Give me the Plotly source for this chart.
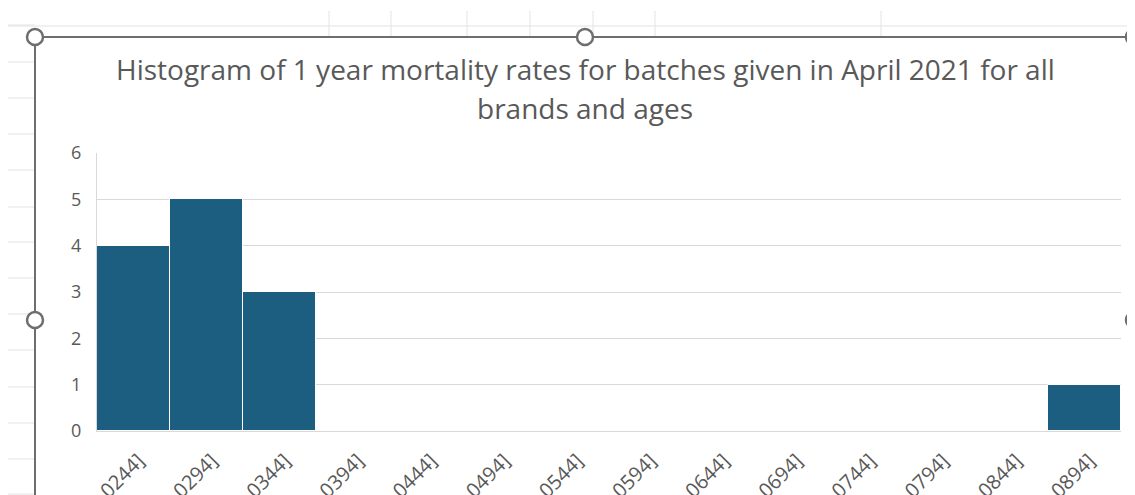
import plotly.graph_objects as go

# ---- data ----
bin_edges = [0.0194, 0.0244, 0.0294, 0.0344, 0.0394, 0.0444, 0.0494, 0.0544,
             0.0594, 0.0644, 0.0694, 0.0744, 0.0794, 0.0844, 0.0894]
counts = [4, 5, 3, 0, 0, 0, 0, 0, 0, 0, 0, 0, 0, 1]
y_ticks = [0, 1, 2, 3, 4, 5, 6]
title_line1 = "Histogram of 1 year mortality rates for batches given in April 2021 for all"
title_line2 = "brands and ages"

labels = []
for i in range(len(counts)):
    lo, hi = bin_edges[i], bin_edges[i + 1]
    if i == 0:
        labels.append(f"[{lo:.4f}, {hi:.4f}]")
    else:
        labels.append(f"({lo:.4f}, {hi:.4f}]")

OFF = 8  # page body margin
W, H = 1135 - OFF, 495 - OFF
# plot area in screen pixels (reference coordinates)
L, R, T, B = 97, 1121, 153, 431

def px(x):
    return (x - L) / (R - L)

def py(y):
    return (B - y) / (B - T)

fig = go.Figure()
fig.add_trace(go.Bar(
    x=labels, y=counts,
    marker=dict(color="#1b5e80", line=dict(color="#ffffff", width=1)),
    hoverinfo="x+y",
))

shapes = []
grid_col = "#e3e3e3"
for yy in [25, 62, 98, 134, 170, 207, 242, 278, 314, 350, 387, 423, 459, 494]:
    shapes.append(dict(type="line", xref="paper", yref="paper",
                       x0=px(4), x1=px(35), y0=py(yy), y1=py(yy),
                       line=dict(color=grid_col, width=1), layer="below"))
shapes.append(dict(type="line", xref="paper", yref="paper",
                   x0=px(4), x1=px(1135), y0=py(26), y1=py(26),
                   line=dict(color=grid_col, width=1), layer="below"))
for xx in [329, 391, 467, 530, 593, 655, 881]:
    shapes.append(dict(type="line", xref="paper", yref="paper",
                       x0=px(xx), x1=px(xx), y0=py(11), y1=py(37),
                       line=dict(color=grid_col, width=1), layer="below"))
frame_col = "#6e6e6e"
shapes.append(dict(type="line", xref="paper", yref="paper",
                   x0=px(35), x1=px(1140), y0=py(37), y1=py(37),
                   line=dict(color=frame_col, width=2)))
shapes.append(dict(type="line", xref="paper", yref="paper",
                   x0=px(35), x1=px(35), y0=py(37), y1=py(500),
                   line=dict(color=frame_col, width=2)))
r = 8
for (cx, cy) in [(35, 37), (585, 37), (1134, 37), (35, 320), (1134, 320)]:
    shapes.append(dict(type="circle", xref="paper", yref="paper",
                       x0=px(cx - r), x1=px(cx + r), y0=py(cy + r), y1=py(cy - r),
                       fillcolor="#ffffff", line=dict(color=frame_col, width=2.5)))

annotations = [
    dict(text=title_line1, xref="paper", yref="paper", x=px(585), y=py(69),
         showarrow=False, xanchor="center", yanchor="middle",
         font=dict(family="Open Sans", size=28, color="#595959")),
    dict(text=title_line2, xref="paper", yref="paper", x=px(585), y=py(108),
         showarrow=False, xanchor="center", yanchor="middle",
         font=dict(family="Open Sans", size=28, color="#595959")),
]

fig.update_layout(
    width=W, height=H,
    margin=dict(l=L - OFF, r=W - (R - OFF), t=T - OFF, b=H - (B - OFF), autoexpand=False),
    paper_bgcolor="#ffffff", plot_bgcolor="#ffffff",
    bargap=0,
    showlegend=False,
    shapes=shapes,
    annotations=annotations,
    font=dict(family="Open Sans", color="#595959"),
)
fig.update_xaxes(
    type="category", tickangle=-45, automargin=False,
    tickfont=dict(family="Open Sans", size=20, color="#595959"),
    showline=True, linecolor="#d9d9d9", linewidth=1,
    showgrid=False, ticks="", ticklabelstandoff=9, ticklabelshift=5,
)
fig.update_yaxes(
    range=[0, 6], tickvals=y_ticks, automargin=False,
    tickfont=dict(family="Open Sans", size=18, color="#595959"),
    showgrid=True, gridcolor="#d9d9d9", gridwidth=1,
    showline=True, linecolor="#d9d9d9", linewidth=1,
    zeroline=False, ticks="", ticklen=0, ticklabelstandoff=11,
)

fig.write_html("out.html")
